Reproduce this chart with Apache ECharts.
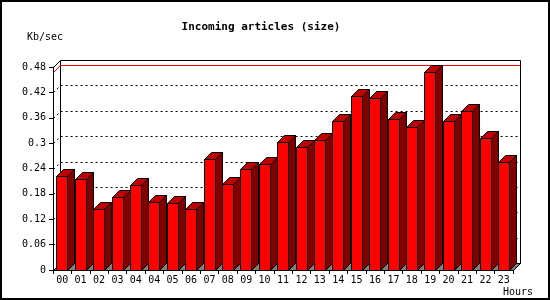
<!DOCTYPE html>
<html><head><meta charset="utf-8">
<script src="https://cdn.jsdelivr.net/npm/echarts@6/dist/echarts.min.js"></script>
<style>html,body{margin:0;padding:0;background:#fff}#c{width:550px;height:300px}</style>
</head><body><div id="c"></div>
<script>
const hours = ['00','01','02','03','04','04','05','06','07','08','09','10','11','12','13','14','15','16','17','18','19','20','21','22','23'];
const sizeKbSec = [0.222,0.214,0.1435,0.172,0.201,0.160,0.158,0.1435,0.262,0.2026,0.240,0.250,0.302,0.290,0.3066,0.3515,0.4106,0.406,0.356,0.338,0.467,0.3515,0.375,0.312,0.255];
const yTicks = [0,0.06,0.12,0.18,0.24,0.30,0.36,0.42,0.48];
const titleText = 'Incoming articles (size)';
const yUnit = 'Kb/sec';
const xUnit = 'Hours';

const D = 7;
const MONO = '"DejaVu Sans Mono", "Liberation Mono", monospace';
const maxVal = Math.max.apply(null, sizeKbSec);
const px = v => Math.round(v) + 0.5;

function renderBack(params, api) {
  const cs = params.coordSys;
  const L = px(cs.x), T = px(cs.y), R = px(cs.x + cs.width), B = px(cs.y + cs.height);
  const ch = [];
  ch.push({type:'polygon', shape:{points:[[L+D,T-D],[R+D,T-D],[R+D,B-D],[L+D,B-D]]}, style:{fill:'#fff', stroke:'#000', lineWidth:1}});
  ch.push({type:'polygon', shape:{points:[[L,B],[R,B],[R+D,B-D],[L+D,B-D]]}, style:{fill:'#808080', stroke:'#000', lineWidth:1}});
  yTicks.forEach(v => {
    if (v <= 0 || v >= yTicks[yTicks.length-1]) return;
    const y = px(api.coord([0, v])[1]);
    ch.push({type:'polyline', shape:{points:[[L,y],[L+D,y-D],[R+D,y-D]]}, style:{stroke:'#000', lineWidth:1, lineDash:[2,3], fill:null}});
  });
  const ym = px(api.coord([0, maxVal])[1]);
  ch.push({type:'polyline', shape:{points:[[L,ym],[L+D,ym-D],[R+D,ym-D]]}, style:{stroke:'#ff0000', lineWidth:1, fill:null}});
  ch.push({type:'line', shape:{x1:L,y1:T,x2:L+D,y2:T-D}, style:{stroke:'#000', lineWidth:1}});
  ch.push({type:'line', shape:{x1:R,y1:B,x2:R+D,y2:B-D}, style:{stroke:'#000', lineWidth:1}});
  ch.push({type:'line', shape:{x1:L,y1:B,x2:L+D,y2:B-D}, style:{stroke:'#000', lineWidth:1}});
  return {type:'group', children: ch};
}

function renderBar(params, api) {
  const i = api.value(0), v = api.value(1);
  const top = api.coord([i, v]);
  const base = api.coord([i, 0]);
  const bw = api.size([1, 0])[0];
  const x0 = px(top[0] - bw * 0.315);
  const x1 = x0 + Math.round(bw * 0.6);
  const yt = px(top[1]), yb = px(base[1]);
  return {type:'group', children:[
    {type:'polygon', shape:{points:[[x1,yb],[x1,yt],[x1+D,yt-D],[x1+D,yb-D]]}, style:{fill:'#800000', stroke:'#000', lineWidth:1}},
    {type:'polygon', shape:{points:[[x0,yt],[x1,yt],[x1+D,yt-D],[x0+D,yt-D]]}, style:{fill:'#c00000', stroke:'#000', lineWidth:1}},
    {type:'polygon', shape:{points:[[x0,yb],[x0,yt],[x1,yt],[x1,yb]]}, style:{fill:'#ff0000', stroke:'#000', lineWidth:1}}
  ]};
}

const chart = echarts.init(document.getElementById('c'), null, {renderer:'canvas'});
chart.setOption({
  animation: false,
  backgroundColor: '#fff',
  grid: {left: 53, right: 37, top: 67, bottom: 30, containLabel: false},
  xAxis: {
    type: 'category', data: hours, boundaryGap: true,
    axisLine: {show: true, lineStyle: {color: '#000', width: 1}},
    axisTick: {show: true, length: 4, lineStyle: {color: '#000'}},
    axisLabel: {color: '#000', fontFamily: MONO, fontSize: 10, margin: 5, interval: 0},
    splitLine: {show: false}
  },
  yAxis: {
    type: 'value', min: 0, max: 0.48, interval: 0.06,
    axisLine: {show: true, lineStyle: {color: '#000', width: 1}},
    axisTick: {show: true, length: 4, lineStyle: {color: '#000'}},
    axisLabel: {color: '#000', fontFamily: MONO, fontSize: 10, margin: 7, formatter: v => String(+v.toFixed(2))},
    splitLine: {show: false}
  },
  series: [
    {type: 'custom', z: 1, data: [[0, 0]], renderItem: renderBack, silent: true},
    {type: 'custom', z: 3, data: sizeKbSec.map((v, i) => [i, v]), renderItem: renderBar, silent: true}
  ],
  graphic: [
    {type: 'rect', shape: {x: 1, y: 1, width: 548, height: 298}, style: {fill: null, stroke: '#000', lineWidth: 2}, silent: true},
    {type: 'text', x: 261, y: 27, style: {text: titleText, font: 'bold 11px ' + MONO, fill: '#000', align: 'center', verticalAlign: 'middle'}},
    {type: 'text', x: 27, y: 37, style: {text: yUnit, font: '10px ' + MONO, fill: '#000', align: 'left', verticalAlign: 'middle'}},
    {type: 'text', x: 533, y: 292, style: {text: xUnit, font: '10px ' + MONO, fill: '#000', align: 'right', verticalAlign: 'middle'}}
  ]
});
</script>
</body></html>
